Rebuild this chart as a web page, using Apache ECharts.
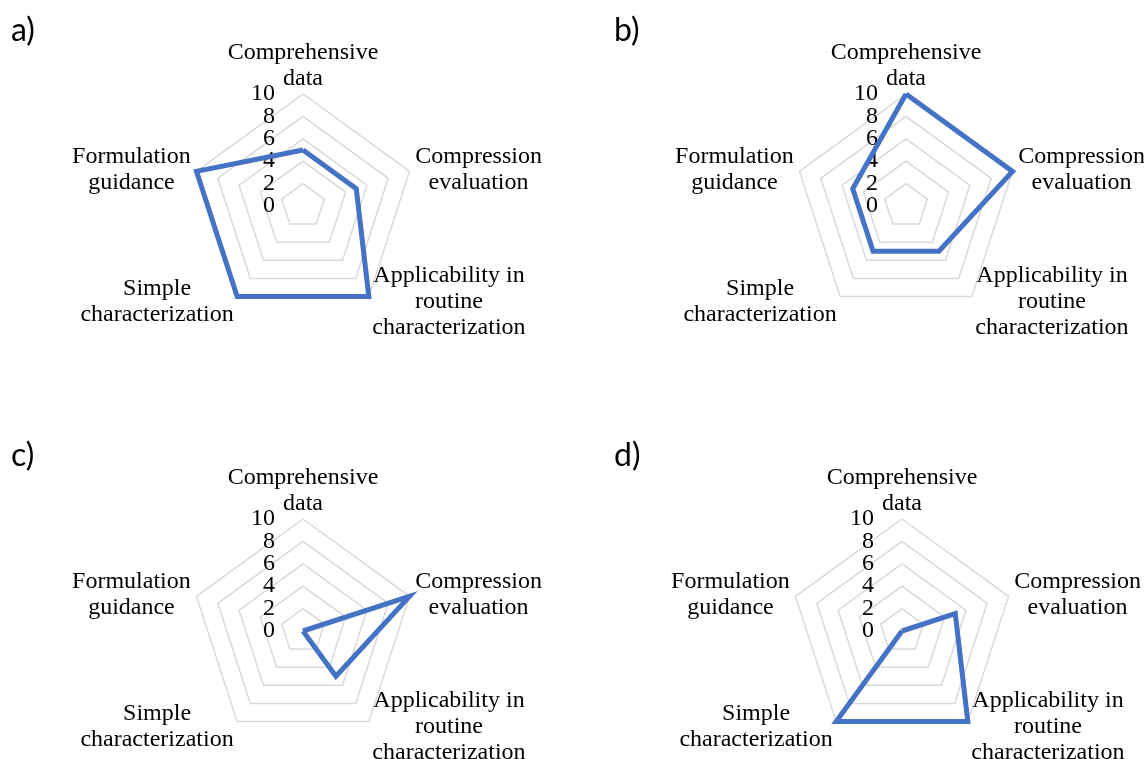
<!DOCTYPE html>
<html>
<head>
<meta charset="utf-8">
<script src="https://cdn.jsdelivr.net/npm/echarts@6/dist/echarts.min.js"></script>
<style>
html, body { margin: 0; padding: 0; background: #fff; }
#main { width: 1144px; height: 759px; }
</style>
</head>
<body>
<div id="main"></div>
<script>
// criteria, clockwise from the top
var criteria = ['Comprehensive\ndata', 'Compression\nevaluation', 'Applicability in\nroutine\ncharacterization', 'Simple\ncharacterization', 'Formulation\nguidance'];
var scoreMax = 10;
var panelNames = ['a)', 'b)', 'c)', 'd)'];
var scoresA = [5, 5, 10, 10, 10];
var scoresB = [10, 10, 5, 5, 5];
var scoresC = [0, 10, 5, 0, 0];
var scoresD = [0, 5, 10, 10, 0];

var allScores = [scoresA, scoresB, scoresC, scoresD];
var centers = [[303, 206], [906, 206], [303, 631], [902, 631]];
var titlePos = [[6, 10], [609, 10], [6, 435], [609, 435]];

// echarts goes counter-clockwise, so walk the list backwards after the first one
var drawOrder = [0, 4, 3, 2, 1];

var serifFont = '"Liberation Serif", "Times New Roman", serif';

var myChart = echarts.init(document.getElementById('main'));

// tick labels sit closer than their text height, echarts hides every other one,
// so split them over two stacked radars: 0/4/8 on the first, 2/6/10 on the second
function tickLabel(keepTens, showMin, showMax) {
    return {
        show: false,
        showMinLabel: showMin,
        showMaxLabel: showMax,
        color: '#000',
        fontFamily: serifFont,
        fontSize: 24,
        margin: 28,
        formatter: function (v) {
            return (v % 4 === 0) === keepTens ? String(v) : '';
        }
    };
}

var radars = [], series = [], titles = [];
for (var p = 0; p < 4; p++) {
    var ind = drawOrder.map(function (k, i) {
        var o = { name: criteria[k], max: scoreMax, min: 0 };
        if (i === 0) { o.axisLabel = { show: true }; o.nameGap = 2; }
        return o;
    });
    radars.push({
        center: centers[p],
        radius: 112,
        startAngle: 90,
        splitNumber: 5,
        shape: 'polygon',
        indicator: ind,
        nameGap: 6,
        axisName: {
            color: '#000',
            fontFamily: serifFont,
            fontSize: 24,
            lineHeight: 26,
            formatter: function (name) {
                return name.split('\n').map(function (s) { return '{c|' + s + '}'; }).join('\n');
            },
            rich: {
                c: { align: 'center', color: '#000', fontFamily: serifFont, fontSize: 24, lineHeight: 26 }
            }
        },
        axisLine: { show: false },
        axisTick: { show: false },
        axisLabel: tickLabel(true, true, false),
        splitLine: { lineStyle: { color: '#d9d9d9', width: 1.5 } },
        splitArea: { show: false }
    });
    series.push({
        type: 'radar',
        radarIndex: p,
        symbol: 'none',
        silent: true,
        lineStyle: { color: '#4472C4', width: 5, join: 'miter' },
        data: [{ value: drawOrder.map(function (k) { return allScores[p][k]; }) }]
    });
    titles.push({
        text: panelNames[p],
        left: titlePos[p][0],
        top: titlePos[p][1],
        textStyle: { fontFamily: 'Lato, "Open Sans", sans-serif', fontSize: 32, fontWeight: 'normal', color: '#000' }
    });
}
// second set of radars, only for the other half of the tick labels
for (var q = 0; q < 4; q++) {
    radars.push({
        center: centers[q],
        radius: 112,
        startAngle: 90,
        splitNumber: 5,
        shape: 'polygon',
        indicator: drawOrder.map(function (k, i) {
            var o = { name: '', max: scoreMax, min: 0 };
            if (i === 0) o.axisLabel = { show: true };
            return o;
        }),
        axisName: { show: false },
        axisLine: { show: false },
        axisTick: { show: false },
        axisLabel: tickLabel(false, false, true),
        splitLine: { show: false },
        splitArea: { show: false }
    });
}

var option = {
    backgroundColor: '#fff',
    animation: false,
    title: titles,
    radar: radars,
    series: series
};
myChart.setOption(option);
</script>
</body>
</html>
